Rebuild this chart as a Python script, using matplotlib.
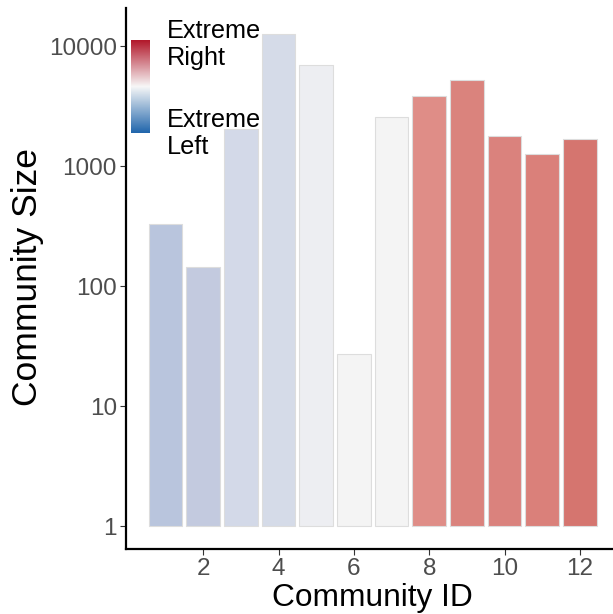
import matplotlib.pyplot as plt
import numpy as np
from matplotlib.colors import LinearSegmentedColormap

plt.rcParams['font.family'] = ['Liberation Sans', 'DejaVu Sans']

community_id = [1, 2, 3, 4, 5, 6, 7, 8, 9, 10, 11, 12]
community_size = [329, 142, 2020, 12600, 6900, 26, 2580, 3850, 5210, 1770, 1260, 1670]
bar_colors = ['#B9C5DD', '#C3CADF', '#D3D9E8', '#D5DBE8', '#EDEEF2', '#F4F4F4',
              '#F4F4F4', '#DF8D87', '#DA837D', '#DA827D', '#DA807A', '#D5756F']
x_ticks = [2, 4, 6, 8, 10, 12]
y_ticks = [1, 10, 100, 1000, 10000]
legend_labels = ['Extreme\nRight', 'Extreme\nLeft']

W, H = 613, 614
fig = plt.figure(figsize=(W / 100, H / 100), dpi=100)
ax = fig.add_axes([126 / W, 1 - 549 / H, 1 - 126 / W, (549 - 8) / H])

ax.bar(community_id, community_size, width=0.9, bottom=1, color=bar_colors,
       edgecolor='#DDDDDD', linewidth=0.8)
ax.set_yscale('log')
ax.set_xlim(-0.05, 12.88)
ax.set_ylim(10 ** -0.19, 10 ** 4.317)

ax.set_xticks(x_ticks)
ax.set_xticklabels([str(t) for t in x_ticks])
ax.set_yticks(y_ticks)
ax.set_yticklabels([str(t) for t in y_ticks])
ax.minorticks_off()
ax.tick_params(axis='both', labelsize=17.5, labelcolor='#4D4D4D', color='#333333',
               length=4.5, width=0.8, pad=2)

for side in ['top', 'right']:
    ax.spines[side].set_visible(False)
for side in ['left', 'bottom']:
    ax.spines[side].set_linewidth(1.6)
    ax.spines[side].set_color('black')

# axis titles
fig.text(372 / W, 1 - 606 / H, 'Community ID', fontsize=22.8, ha='center', va='baseline')
fig.text(28 / W, 1 - 277 / H, 'Community Size', fontsize=25.5, rotation=90,
         ha='center', va='center')

# colour bar legend
cmap = LinearSegmentedColormap.from_list('lr', ['#2166AC', '#F7F7F7', '#B2182B'])
cax = fig.add_axes([131 / W, 1 - 133 / H, 19 / W, 93 / H])
cax.imshow(np.linspace(0, 1, 200).reshape(-1, 1), cmap=cmap, aspect='auto', origin='lower')
cax.axis('off')

baselines = [[37.5, 65.3], [126.7, 154.5]]
for label, ys in zip(legend_labels, baselines):
    for line, yb in zip(label.split('\n'), ys):
        fig.text(166.5 / W, 1 - yb / H, line, fontsize=18.2, ha='left', va='baseline')

fig.savefig('out.png', dpi=100)
